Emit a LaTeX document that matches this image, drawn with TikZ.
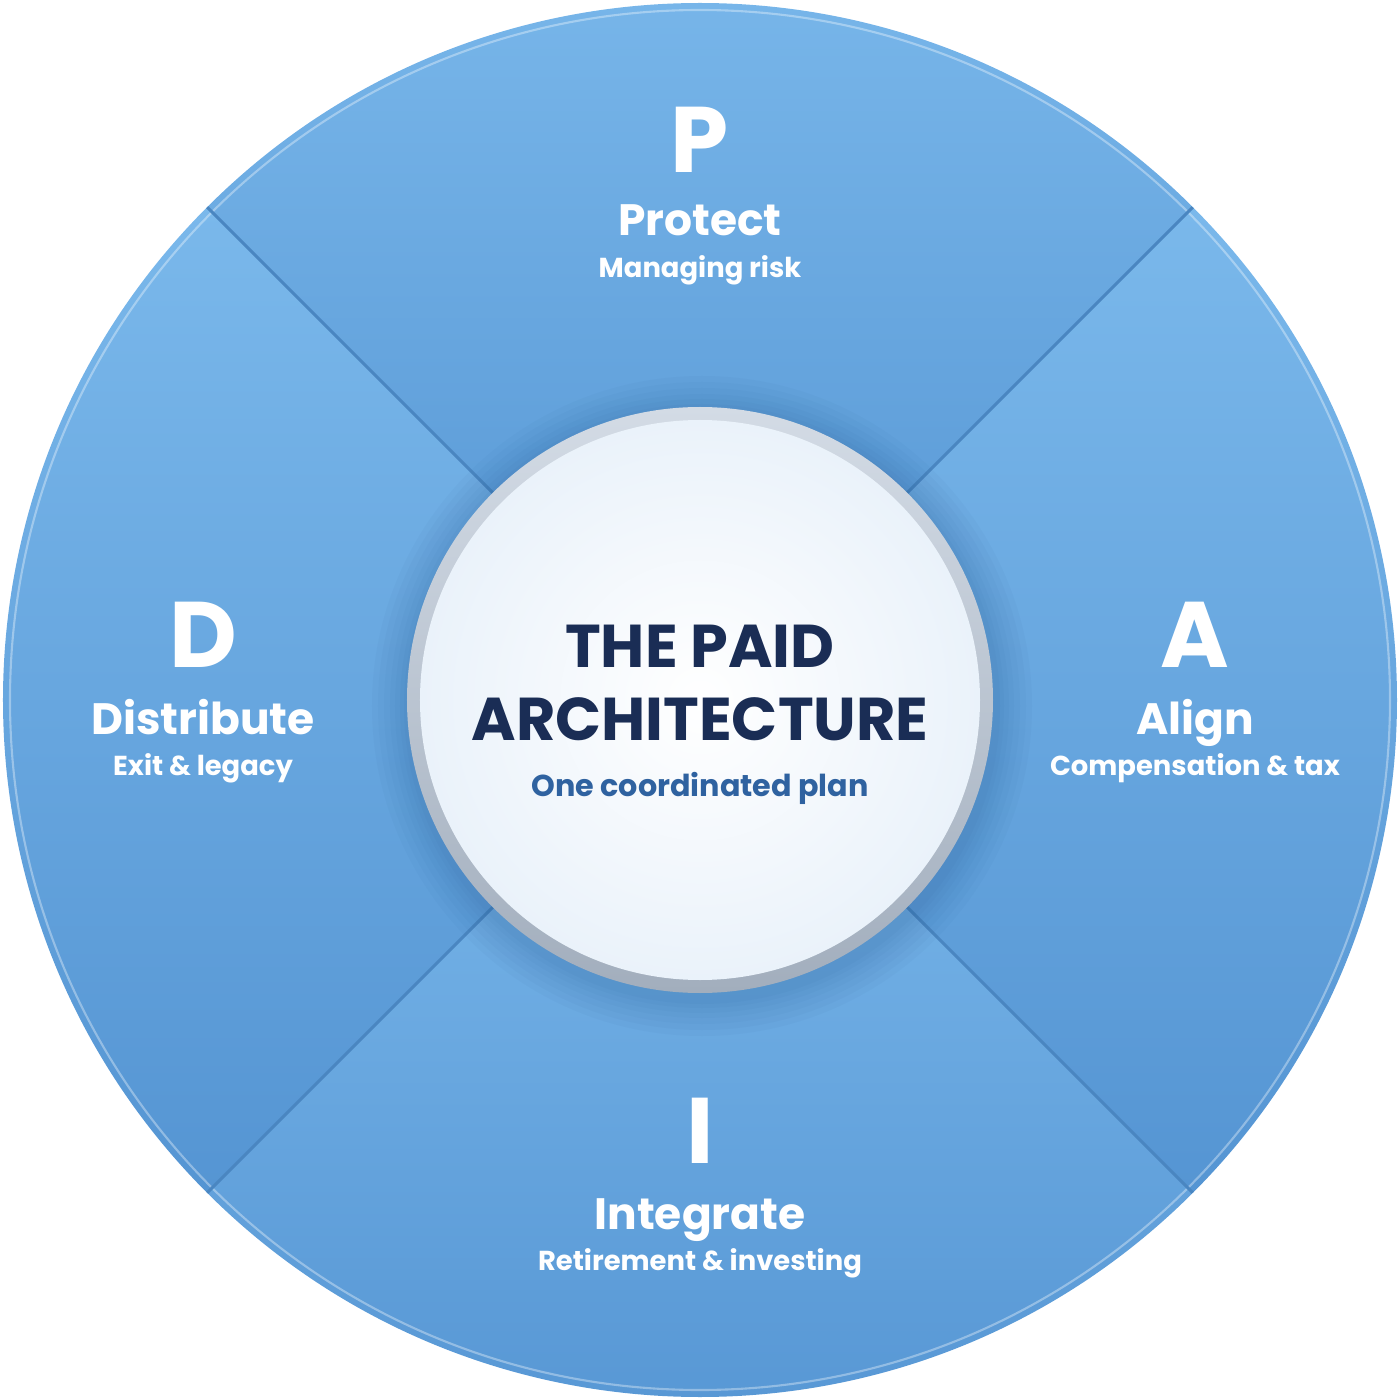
\documentclass[tikz,border=0pt]{standalone}
\usepackage{fontspec}
\setmainfont{Poppins}
\definecolor{secTop}{HTML}{7AB8EB}
\definecolor{secBot}{HTML}{5595D3}
\definecolor{divline}{HTML}{4A86C1}
\definecolor{ringTop}{HTML}{D3DBE5}
\definecolor{ringBot}{HTML}{A2AEBD}
\definecolor{coreOut}{HTML}{EAF2FA}
\definecolor{navy}{HTML}{1A2D55}
\definecolor{subblue}{HTML}{2F62A0}
\definecolor{shadowc}{HTML}{1F4E86}
\tikzset{
  sector/.style={top color=secTop, bottom color=secBot},
  divider/.style={draw=divline, line width=0.9pt},
  letter/.style={text=white, font=\bfseries\fontsize{26.5}{28}\selectfont, anchor=base, inner sep=0pt},
  title/.style={text=white, font=\bfseries\fontsize{12.5}{14}\selectfont, anchor=base, inner sep=0pt},
  subtitle/.style={text=white, font=\bfseries\fontsize{7.8}{9}\selectfont, anchor=base, inner sep=0pt},
  headline/.style={text=navy, font=\bfseries\fontsize{17.2}{20}\selectfont, anchor=base, inner sep=0pt},
  tagline/.style={text=subblue, font=\bfseries\fontsize{8.6}{10}\selectfont, anchor=base, inner sep=0pt}
}
\begin{document}
\begin{tikzpicture}
\useasboundingbox (-7,-7) rectangle (7,7);
\def\R{6.97}
% sectors
\shade[sector] (0,0) -- (45:\R) arc[start angle=45,end angle=135,radius=\R] -- cycle;
\shade[sector] (0,0) -- (135:\R) arc[start angle=135,end angle=225,radius=\R] -- cycle;
\shade[sector] (0,0) -- (225:\R) arc[start angle=225,end angle=315,radius=\R] -- cycle;
\shade[sector] (0,0) -- (-45:\R) arc[start angle=-45,end angle=45,radius=\R] -- cycle;
% rim highlight
\draw[white, opacity=0.35, line width=0.6pt] (0,0) circle (6.90);
% dividers
\coordinate (c) at (0,0);
\coordinate (d1) at (45:\R);
\coordinate (d2) at (135:\R);
\coordinate (d3) at (225:\R);
\coordinate (d4) at (315:\R);
\draw[divider] (c) -- (d1);
\draw[divider] (c) -- (d2);
\draw[divider] (c) -- (d3);
\draw[divider] (c) -- (d4);
% center shadow
\foreach \r in {3.30,3.24,3.18,3.12,3.07,3.02,2.98}
  \fill[shadowc, opacity=0.035] (0.02,-0.06) circle (\r);
% ring
\shade[top color=ringTop, bottom color=ringBot] (0,0) circle (2.93);
\shade[inner color=white, outer color=coreOut] (0,0) circle (2.80);
% center text
\node[headline] (t1) at (0,0.33) {THE PAID};
\node[headline] (t2) at (0,-0.40) {ARCHITECTURE};
\node[tagline] (t3) at (0,-0.97) {One coordinated plan};
% Protect
\node[letter] (pl) at (0,5.27) {P};
\node[title] (pt) at (0,4.64) {Protect};
\node[subtitle] (ps) at (0,4.22) {Managing risk};
% Distribute
\node[letter] (dl) at (-4.97,0.32) {D};
\node[title] (dt) at (-4.97,-0.34) {Distribute};
\node[subtitle] (ds) at (-4.97,-0.75) {Exit \& legacy};
% Align
\node[letter] (al) at (4.95,0.32) {A};
\node[title] (at) at (4.95,-0.34) {Align};
\node[subtitle] (as) at (4.95,-0.75) {Compensation \& tax};
% Integrate
\node[letter] (il) at (0,-4.63) {I};
\node[title] (it) at (0,-5.29) {Integrate};
\node[subtitle] (is) at (0,-5.70) {Retirement \& investing};
\end{tikzpicture}
\end{document}
